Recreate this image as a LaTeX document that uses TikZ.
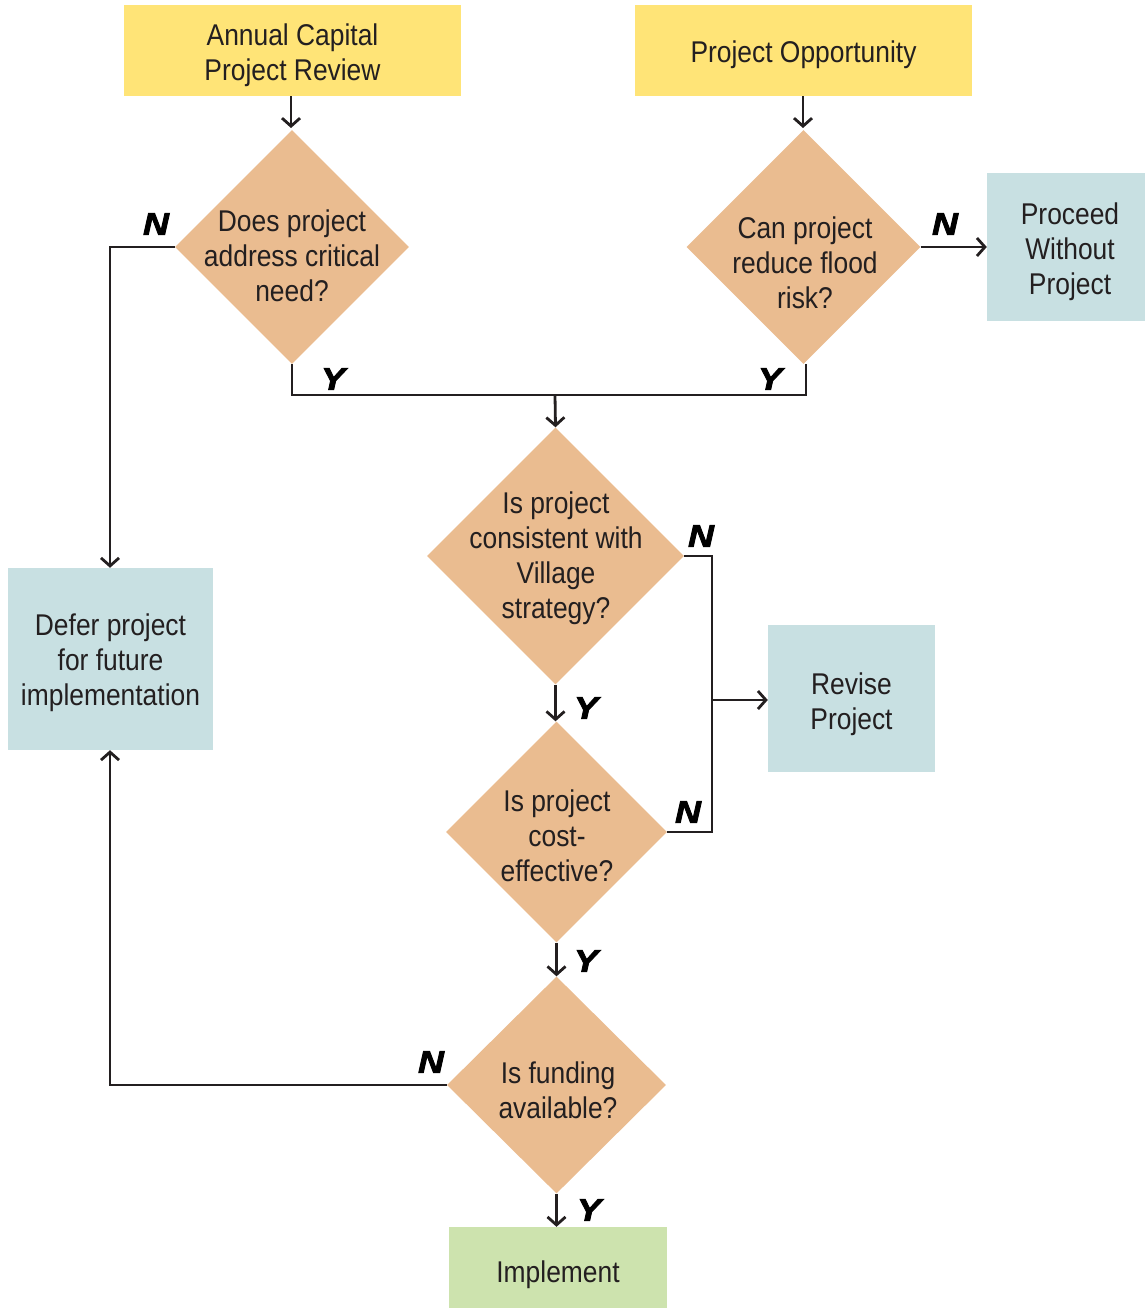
\documentclass[tikz,border=0pt]{standalone}
\usepackage{fontspec}
\setmainfont{Liberation Sans}[FakeStretch=0.88]
\newfontfamily\ynfont{Liberation Sans}[ItalicFeatures={FakeBold=3}, BoldItalicFeatures={FakeBold=3, FakeStretch=1.15}]
\usetikzlibrary{shapes.geometric,arrows.meta}
\definecolor{ylw}{HTML}{FFE477}
\definecolor{tan}{HTML}{EABC90}
\definecolor{blu}{HTML}{C8E0E2}
\definecolor{grn}{HTML}{CDE3AE}
\definecolor{ink}{HTML}{231F20}
\begin{document}
\begin{tikzpicture}[x=1pt,y=-1pt,
  txt/.style={font=\fontsize{30}{35}\selectfont, text=ink, align=center, inner sep=0pt},
  ybox/.style={fill=ylw, draw=none, minimum width=337pt, minimum height=91pt, inner sep=0pt},
  bbox/.style={fill=blu, draw=none, inner sep=0pt},
  gbox/.style={fill=grn, draw=none, inner sep=0pt},
  diam/.style={diamond, fill=tan, draw=none, inner sep=0pt, aspect=1},
  yn/.style={font=\fontsize{31}{31}\ynfont\bfseries\itshape, text=black, inner sep=0pt},
  conn/.style={draw=ink, line width=2.8pt},
  arr/.style={conn, -{Straight Barb[length=8pt,width=18pt]}}
]
\useasboundingbox (0,0) rectangle (1145,1308);

% boxes
\node[ybox] (acr) at (292.5,50.5) {};
\node[txt] at (292.5,55) {Annual Capital\\Project Review};
\node[ybox] (po) at (803.5,50.5) {};
\node[txt] at (803.5,55) {Project Opportunity};
\node[bbox, minimum width=158pt, minimum height=148pt] (pwp) at (1066,247) {};
\node[txt] at (1070,252) {Proceed\\Without\\Project};
\node[bbox, minimum width=205pt, minimum height=182pt] (defer) at (110.5,659) {};
\node[txt] at (110.5,663) {Defer project\\for future\\implementation};
\node[bbox, minimum width=167pt, minimum height=147pt] (rev) at (851.5,698.5) {};
\node[txt] at (851.5,704.5) {Revise\\Project};
\node[gbox, minimum width=218pt, minimum height=81pt] (impl) at (558,1267.5) {};
\node[txt] at (558,1275) {Implement};

% diamonds
\node[diam, minimum width=234pt, minimum height=234pt] (d1) at (292,247) {};
\node[txt] at (292,256) {Does project\\address critical\\need?};
\node[diam, minimum width=234pt, minimum height=234pt] (d2) at (803.5,247) {};
\node[txt] at (805,263) {Can project\\reduce flood\\risk?};
\node[diam, minimum width=257pt, minimum height=257pt] (d3) at (555.5,556) {};
\node[txt] at (556,558.5) {Is project\\consistent with\\Village\\strategy?};
\node[diam, minimum width=221pt, minimum height=221pt] (d4) at (556.5,832) {};
\node[txt] at (557,836) {Is project\\cost-\\effective?};
\node[diam, minimum width=219pt, minimum height=217pt] (d5) at (556.5,1085) {};
\node[txt] at (558,1090) {Is funding\\available?};

% connector helper coordinates
\coordinate (j1) at (292,395);
\coordinate (j2) at (806,395);
\coordinate (jm) at (555,395);
\coordinate (l1) at (110,247);
\coordinate (r3) at (712,556);
\coordinate (r4) at (712,832);
\coordinate (rm) at (712,700);
\coordinate (l5) at (110,1085);

% connectors
\draw[arr] (acr.south -| 291,0) -- (291,128);
\draw[arr] (po.south -| 803,0) -- (803,128);
\draw[conn] (d1.south) -- (j1) -- (j2) -- (d2.south -| j2);
\draw[arr] (jm) -- (d3.north);
\draw[arr] (d1.west) -- (l1) -- (defer.north -| l1);
\draw[arr] (d2.east) -- (pwp.west |- d2.east);
\draw[conn] (d3.east) -- (r3) -- (r4) -- (d4.east);
\draw[arr] (rm) -- (rev.west |- rm);
\draw[arr] (d3.south) -- (d3.south |- d4.north);
\draw[arr] (d4.south) -- (d4.south |- d5.north);
\draw[arr] (d5.south) -- (d5.south |- impl.north);
\draw[arr] (d5.west) -- (l5) -- (defer.south -| l5);

% Y / N labels
\node[yn] (n1) at (156,224) {N};
\node[yn] (y1) at (333,379) {Y};
\node[yn] (y2) at (770,379) {Y};
\node[yn] (n2) at (945,224) {N};
\node[yn] (n3) at (701,536) {N};
\node[yn] (y3) at (586,708) {Y};
\node[yn] (n4) at (688,812) {N};
\node[yn] (y4) at (586,961) {Y};
\node[yn] (n5) at (431,1062) {N};
\node[yn] (y5) at (589,1210) {Y};
\end{tikzpicture}
\end{document}
